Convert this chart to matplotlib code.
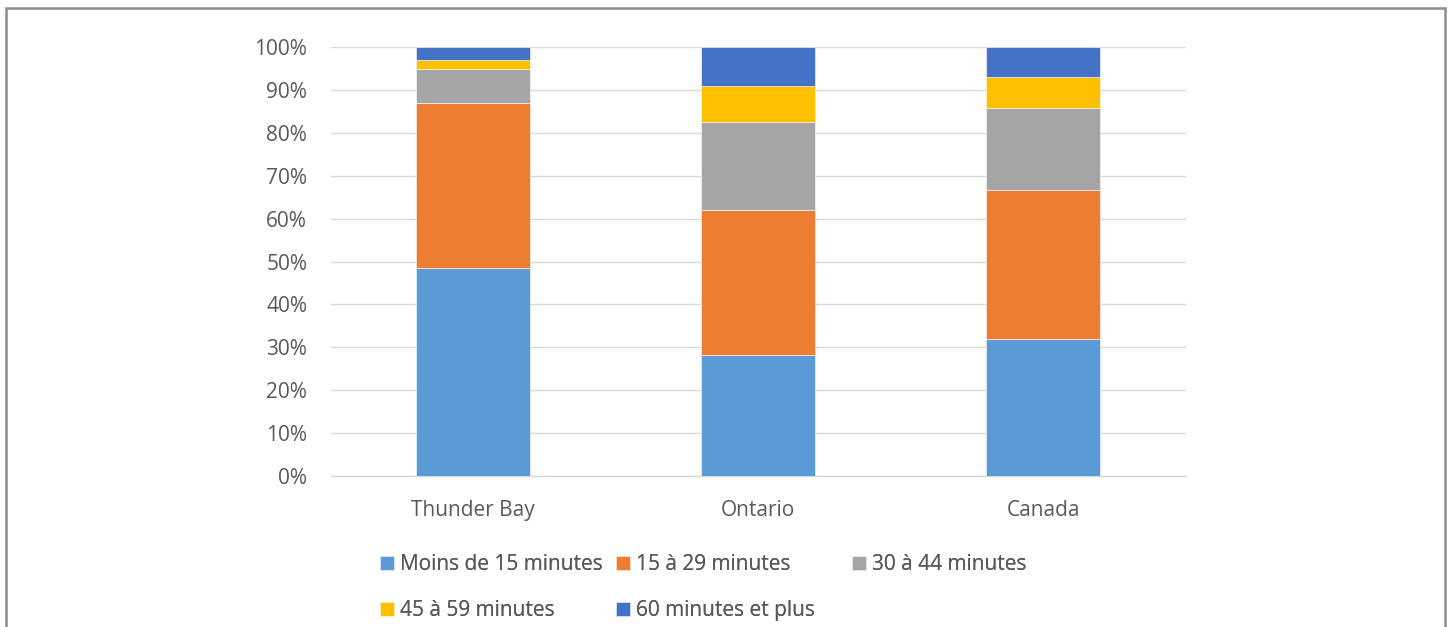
import matplotlib
matplotlib.use('Agg')
import matplotlib.pyplot as plt
from matplotlib.patches import Rectangle
from matplotlib.ticker import PercentFormatter
import numpy as np

REGIONS = ['Thunder Bay', 'Ontario', 'Canada']
SERIES = [
    'Moins de 15 minutes',
    '15 à 29 minutes',
    '30 à 44 minutes',
    '45 à 59 minutes',
    '60 minutes et plus',
]
# percentage shares
moins_15 = [48.6, 28.2, 31.9]
de_15_29 = [38.3, 33.7, 34.8]
de_30_44 = [8.0, 20.7, 19.2]
de_45_59 = [2.0, 8.4, 7.0]
plus_60 = [3.1, 9.0, 7.1]
VALUES = [moins_15, de_15_29, de_30_44, de_45_59, plus_60]
COLOURS = ['#5B9BD5', '#ED7D31', '#A5A5A5', '#FFC000', '#4472C4']
TEXT = '#595959'

plt.rcParams['font.family'] = ['Open Sans', 'DejaVu Sans']

fig = plt.figure(figsize=(14.5, 6.27), dpi=100)
ax = fig.add_axes([0.2281, 0.2408, 0.8179 - 0.2281, 0.925 - 0.2408])

x = np.arange(len(REGIONS))
bottom = np.zeros(len(REGIONS))
handles = []
for label, vals, colour in zip(SERIES, VALUES, COLOURS):
    bars = ax.bar(x, vals, 0.4, bottom=bottom, color=colour,
                  edgecolor='white', linewidth=0.4, label=label, zorder=3)
    handles.append(bars)
    bottom += np.array(vals)

ax.set_xlim(-0.5, 2.5)
ax.set_ylim(0, 100)
ax.set_yticks(np.arange(0, 101, 10))
ax.yaxis.set_major_formatter(PercentFormatter(decimals=0))
ax.set_xticks(x)
ax.set_xticklabels(REGIONS)
ax.grid(axis='y', color='#d9d9d9', linewidth=1.0, zorder=0)
for side in ['top', 'right', 'left']:
    ax.spines[side].set_visible(False)
ax.spines['bottom'].set_color('#d9d9d9')
ax.spines['bottom'].set_linewidth(1.0)
ax.tick_params(axis='both', length=0, labelsize=15, labelcolor=TEXT)
ax.tick_params(axis='y', pad=17)
ax.tick_params(axis='x', pad=17)

# Legend laid out like Excel: three columns, column-first order
columns = [(0, 3), (1, 4), (2,)]
col_x = [380, 616, 852]
for idx, cx in zip(columns, col_x):
    leg = fig.legend([handles[i] for i in idx], [SERIES[i] for i in idx],
                     loc='upper left', bbox_to_anchor=(cx / 1450, 1 - 554 / 627),
                     frameon=False, fontsize=15, handlelength=0.65,
                     handleheight=0.65, handletextpad=0.3, labelspacing=1.2,
                     borderpad=0, borderaxespad=0, labelcolor=TEXT)
    fig.add_artist(leg)

# Outer chart frame
fig.patches.append(Rectangle((6 / 1450, -0.05), (1445 - 6) / 1450, 1.05 - 8 / 627,
                             transform=fig.transFigure, fill=False,
                             edgecolor='#8c8c8c', linewidth=1.8))

fig.savefig('out.png', dpi=100)
